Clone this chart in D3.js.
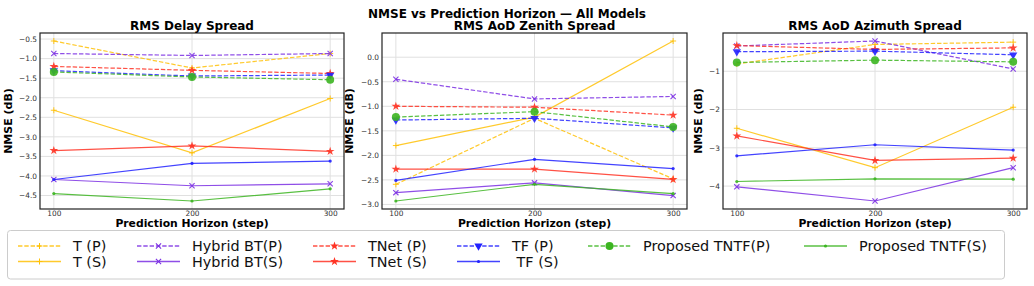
<!DOCTYPE html>
<html lang="en">
<head>
<meta charset="utf-8">
<title>NMSE vs Prediction Horizon</title>
<script src="https://cdn.jsdelivr.net/npm/d3@7"></script>
<style>
  body { margin: 0; background: #fff; }
  text { font-family: "DejaVu Sans", sans-serif; }
</style>
</head>
<body>
<script>
// horizons on the x axis
var horizons = [100, 200, 300];
var panelTitles = ["RMS Delay Spread", "RMS AoD Zenith Spread", "RMS AoD Azimuth Spread"];
var panelTicks = [
  [-0.5, -1.0, -1.5, -2.0, -2.5, -3.0, -3.5, -4.0, -4.5],
  [0.0, -0.5, -1.0, -1.5, -2.0, -2.5, -3.0],
  [-1, -2, -3, -4]
];

// one array per model, one row per panel (delay, zenith, azimuth)
var T_P      = [[-0.55, -1.24, -0.87], [-2.59, -1.245, -2.48], [-0.81, -0.30, -0.24]];
var T_S      = [[-2.32, -3.41, -2.02], [-1.80, -1.22, 0.33],   [-2.49, -3.52, -1.94]];
var HBT_P    = [[-0.87, -0.92, -0.87], [-0.45, -0.85, -0.80],  [-0.34, -0.21, -0.94]];
var HBT_S    = [[-4.09, -4.25, -4.20], [-2.76, -2.56, -2.82],  [-4.02, -4.39, -3.52]];
var TNet_P   = [[-1.20, -1.30, -1.38], [-1.00, -1.02, -1.18],  [-0.33, -0.43, -0.39]];
var TNet_S   = [[-3.35, -3.23, -3.37], [-2.28, -2.28, -2.49],  [-2.69, -3.33, -3.27]];
var TF_P     = [[-1.31, -1.445, -1.42], [-1.28, -1.245, -1.44], [-0.49, -0.475, -0.57]];
var TF_S     = [[-4.09, -3.68, -3.62], [-2.51, -2.08, -2.27],  [-3.21, -2.92, -3.06]];
var TNTF_P   = [[-1.34, -1.47, -1.54], [-1.22, -1.11, -1.42],  [-0.77, -0.71, -0.755]];
var TNTF_S   = [[-4.45, -4.64, -4.33], [-2.93, -2.59, -2.78],  [-3.88, -3.81, -3.82]];

var yellow = "#ffc107", purple = "#7b2fe3", red = "#ff3324", blue = "#2222ff", green = "#3cb521";

// legend order (matplotlib fills columns first)
var series = [
  {name: "T (P)", vals: T_P, color: yellow, dash: true, marker: "plus"},
  {name: "T (S)", vals: T_S, color: yellow, dash: false, marker: "plus"},
  {name: "Hybrid BT(P)", vals: HBT_P, color: purple, dash: true, marker: "x"},
  {name: "Hybrid BT(S)", vals: HBT_S, color: purple, dash: false, marker: "x"},
  {name: "TNet (P)", vals: TNet_P, color: red, dash: true, marker: "star"},
  {name: "TNet (S)", vals: TNet_S, color: red, dash: false, marker: "star"},
  {name: "TF (P)", vals: TF_P, color: blue, dash: true, marker: "tri"},
  {name: " TF (S)", vals: TF_S, color: blue, dash: false, marker: "dot"},
  {name: "Proposed TNTF(P)", vals: TNTF_P, color: green, dash: true, marker: "circle"},
  {name: "Proposed TNTF(S)", vals: TNTF_S, color: green, dash: false, marker: "dot"}
];

var W = 1034, H = 286;
var svg = d3.select("body").append("svg").attr("width", W).attr("height", H);

var panels = [{left: 40, right: 344, ylab: 28}, {left: 382, right: 687, ylab: 29}, {left: 723, right: 1027, ylab: 21}];
var plotTop = 33, plotBottom = 209;

svg.append("text").attr("x", 507).attr("y", 17.5).attr("text-anchor", "middle")
  .attr("font-weight", "bold").attr("font-size", 12).text("NMSE vs Prediction Horizon \u2014 All Models");

function drawMarker(g, type, color) {
  if (type == "plus") {
    g.append("path").attr("d", "M-3,0H3M0,-3V3").attr("stroke", color).attr("stroke-width", 1).attr("fill", "none");
  } else if (type == "x") {
    g.append("path").attr("d", "M-2.6,-2.6L2.6,2.6M-2.6,2.6L2.6,-2.6").attr("stroke", color).attr("stroke-width", 1.1).attr("fill", "none");
  } else if (type == "star") {
    g.append("path").attr("d", d3.symbol().type(d3.symbolStar).size(24)()).attr("fill", color);
  } else if (type == "tri") {
    g.append("path").attr("d", d3.symbol().type(d3.symbolTriangle).size(30)()).attr("transform", "rotate(180)").attr("fill", color);
  } else if (type == "circle") {
    g.append("circle").attr("r", 4).attr("fill", color);
  } else {
    g.append("circle").attr("r", 1.6).attr("fill", color);
  }
}

function dashOf(s) { return s.dash ? "4.4,1.9" : "none"; }

panels.forEach(function(p, pi) {
  var x = d3.scaleLinear().domain([90, 310]).range([p.left, p.right]);
  var allV = [];
  series.forEach(function(s) { allV = allV.concat(s.vals[pi]); });
  var lo = d3.min(allV), hi = d3.max(allV), pad = (hi - lo) * 0.05;
  var y = d3.scaleLinear().domain([lo - pad, hi + pad]).range([plotBottom, plotTop]);
  var g = svg.append("g");

  // grid
  g.selectAll(".gx").data(horizons).enter().append("line")
    .attr("x1", function(d) { return x(d); }).attr("x2", function(d) { return x(d); })
    .attr("y1", plotTop).attr("y2", plotBottom).attr("stroke", "#e0e0e0").attr("stroke-width", 1);
  g.selectAll(".gy").data(panelTicks[pi]).enter().append("line")
    .attr("x1", p.left).attr("x2", p.right)
    .attr("y1", function(d) { return y(d); }).attr("y2", function(d) { return y(d); })
    .attr("stroke", "#e0e0e0").attr("stroke-width", 1);

  // axes (text only, frame drawn below)
  var fmt = pi == 2 ? d3.format("d") : d3.format(".1f");
  var ax = g.append("g").attr("transform", "translate(0," + plotBottom + ")")
    .call(d3.axisBottom(x).tickValues(horizons).tickSize(0).tickPadding(1.5));
  var ay = g.append("g").attr("transform", "translate(" + p.left + ",0)")
    .call(d3.axisLeft(y).tickValues(panelTicks[pi]).tickFormat(fmt).tickSize(0).tickPadding(3));
  [ax, ay].forEach(function(a) {
    a.select(".domain").remove();
    a.selectAll("text").attr("font-size", 7.4).attr("fill", "#333").style("font-family", "DejaVu Sans");
  });

  // lines and markers
  var line = d3.line().x(function(d, i) { return x(horizons[i]); }).y(function(d) { return y(d); });
  series.forEach(function(s) {
    g.append("path").attr("d", line(s.vals[pi])).attr("fill", "none")
      .attr("stroke", s.color).attr("stroke-opacity", 0.85).attr("stroke-width", 1.2)
      .attr("stroke-dasharray", dashOf(s));
    s.vals[pi].forEach(function(v, i) {
      var m = g.append("g").attr("transform", "translate(" + x(horizons[i]) + "," + y(v) + ")").attr("opacity", 0.9);
      drawMarker(m, s.marker, s.color);
    });
  });

  g.append("rect").attr("x", p.left).attr("y", plotTop).attr("width", p.right - p.left).attr("height", plotBottom - plotTop)
    .attr("fill", "none").attr("stroke", "#222").attr("stroke-width", 1.2);

  g.append("text").attr("x", (p.left + p.right) / 2).attr("y", 29.5).attr("text-anchor", "middle")
    .attr("font-weight", "bold").attr("font-size", 12).text(panelTitles[pi]);
  g.append("text").attr("x", (p.left + p.right) / 2).attr("y", 226.5).attr("text-anchor", "middle")
    .attr("font-weight", "bold").attr("font-size", 10.8).text("Prediction Horizon (step)");
  g.append("text").attr("transform", "translate(" + (p.left - p.ylab) + "," + ((plotTop + plotBottom) / 2) + ") rotate(-90)")
    .attr("text-anchor", "middle").attr("font-weight", "bold").attr("font-size", 11).text("NMSE (dB)");
});

// legend
svg.append("rect").attr("x", 7.5).attr("y", 230.5).attr("width", 997).attr("height", 48.5)
  .attr("rx", 3).attr("fill", "#fff").attr("stroke", "#cccccc").attr("stroke-width", 1);

var colX = [18, 137, 313, 457, 588, 804];
var rowY = [246, 261.5];
var slot = [[0, 0], [0, 1], [1, 0], [1, 1], [2, 0], [2, 1], [3, 0], [3, 1], [4, 0], [5, 0]];
series.forEach(function(s, i) {
  var cx = colX[slot[i][0]], cy = rowY[slot[i][1]];
  var lg = svg.append("g");
  lg.append("path").attr("d", "M" + cx + "," + cy + "H" + (cx + 43)).attr("fill", "none")
    .attr("stroke", s.color).attr("stroke-opacity", 0.85).attr("stroke-width", 1.3)
    .attr("stroke-dasharray", dashOf(s));
  var m = lg.append("g").attr("transform", "translate(" + (cx + 21.5) + "," + cy + ")");
  drawMarker(m, s.marker, s.color);
  lg.append("text").attr("x", cx + 55).attr("y", cy + 5).attr("font-size", 14.4)
    .attr("fill", "#111").style("white-space", "pre").text(s.name);
});
</script>
</body>
</html>
